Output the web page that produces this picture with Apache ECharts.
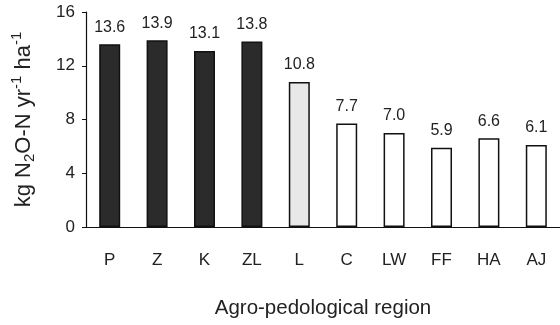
<!DOCTYPE html>
<html>
<head>
<meta charset="utf-8">
<script src="https://cdn.jsdelivr.net/npm/echarts@6/dist/echarts.min.js"></script>
<style>html,body{margin:0;padding:0;background:#fff;}#c{width:560px;height:325px;}</style>
</head>
<body>
<div id="c"></div>
<script>
const categories = ['P', 'Z', 'K', 'ZL', 'L', 'C', 'LW', 'FF', 'HA', 'AJ'];
const values = [13.6, 13.9, 13.1, 13.8, 10.8, 7.7, 7.0, 5.9, 6.6, 6.1];
const yTicks = [0, 4, 8, 12, 16];

const chart = echarts.init(document.getElementById('c'), null, {renderer: 'canvas'});
const font = '"Liberation Sans", Arial, sans-serif';
const fillFor = i => i < 4 ? '#2b2b2b' : (i === 4 ? '#e8e8e8' : '#ffffff');

chart.setOption({
  animation: false,
  backgroundColor: '#fff',
  grid: {left: 86, top: 12, width: 480, height: 215, containLabel: false},
  xAxis: {
    type: 'category',
    data: categories,
    name: 'Agro-pedological region',
    nameLocation: 'middle',
    nameGap: 71,
    nameTextStyle: {fontFamily: font, fontSize: 20.5, color: '#222'},
    axisLine: {lineStyle: {color: '#111', width: 1.2}},
    axisTick: {inside: true, length: 5, lineStyle: {color: '#111'}},
    axisLabel: {fontFamily: font, fontSize: 17, color: '#222', margin: 25}
  },
  yAxis: {
    type: 'value',
    min: yTicks[0],
    max: yTicks[yTicks.length - 1],
    interval: yTicks[1] - yTicks[0],
    name: '{a|kg N}{sub|2}{a|O-N yr}{sup|-1}{a| ha}{sup|-1}',
    nameLocation: 'middle',
    nameGap: 48,
    nameRotate: 90,
    nameTextStyle: {
      fontFamily: font, color: '#222',
      rich: {
        a: {fontFamily: font, fontSize: 22, color: '#222'},
        sub: {fontFamily: font, fontSize: 15, color: '#222', padding: [12, 0, 0, 0]},
        sup: {fontFamily: font, fontSize: 15, color: '#222', padding: [0, 0, 14, 0]}
      }
    },
    splitLine: {show: false},
    axisLine: {show: true, lineStyle: {color: '#111', width: 1.2}},
    axisTick: {show: true, inside: false, length: 4, lineStyle: {color: '#111'}},
    axisLabel: {fontFamily: font, fontSize: 17, color: '#222', margin: 11}
  },
  series: [{
    type: 'bar',
    data: values,
    barWidth: 21,
    itemStyle: {
      color: p => fillFor(p.dataIndex),
      borderColor: '#111',
      borderWidth: 1.5
    },
    label: {
      show: true,
      position: 'top',
      distance: 9,
      fontFamily: font,
      fontSize: 16,
      color: '#222',
      formatter: p => p.value.toFixed(1)
    }
  }]
});
</script>
</body>
</html>
